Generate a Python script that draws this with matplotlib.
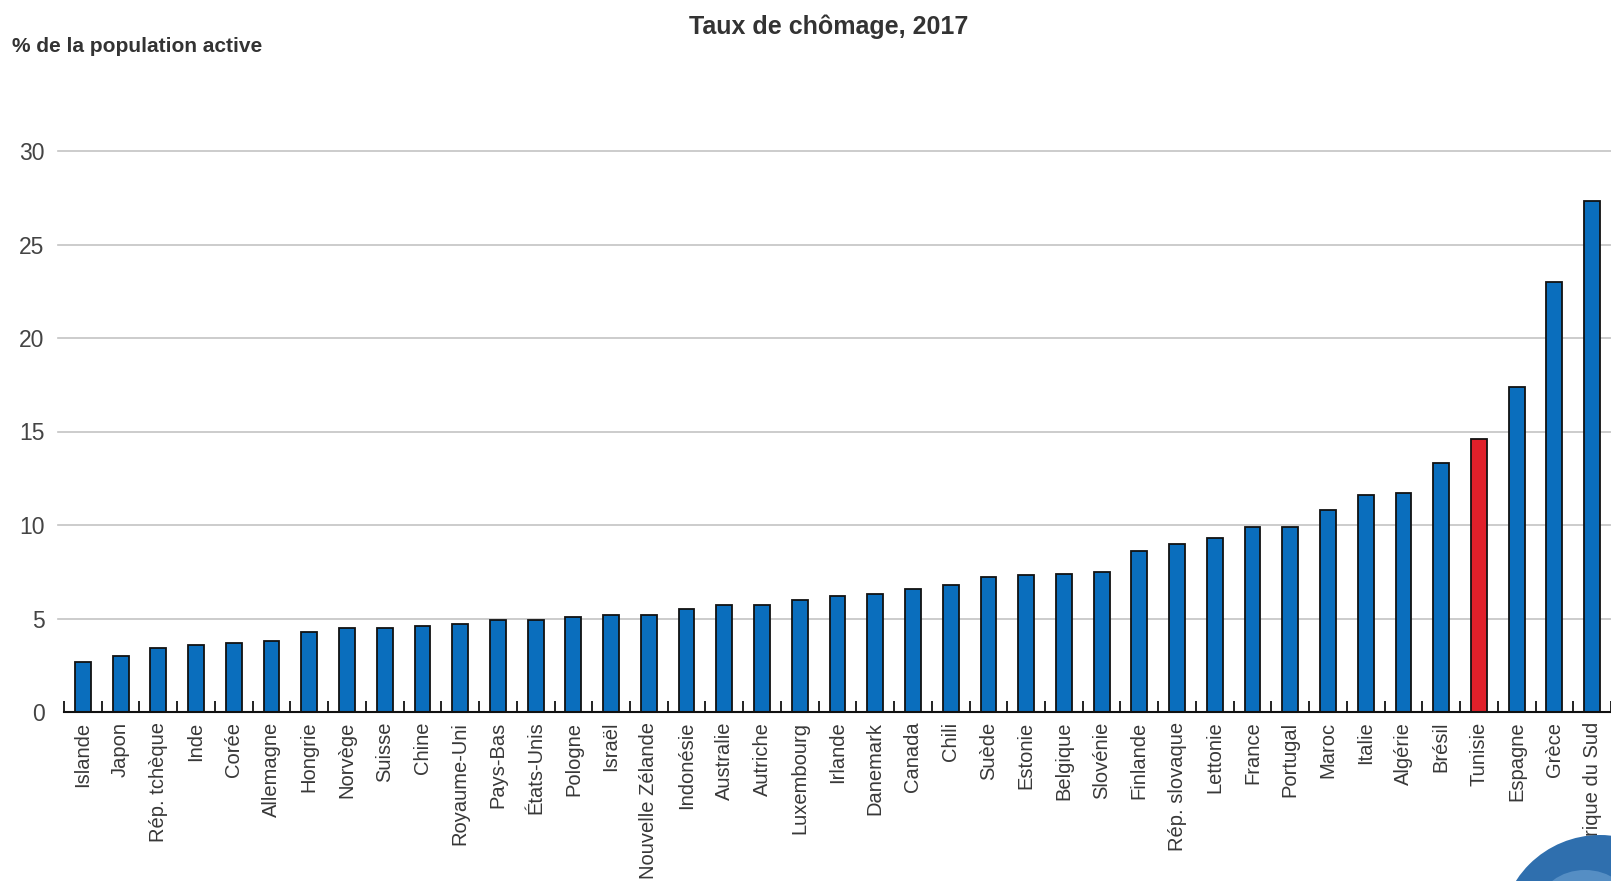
import numpy as np
import matplotlib
matplotlib.use("Agg")
import matplotlib.pyplot as plt
from matplotlib.patches import Ellipse

plt.rcParams['font.family'] = ['Liberation Sans', 'DejaVu Sans']

pays = ["Islande", "Japon", "Rép. tchèque", "Inde", "Corée", "Allemagne", "Hongrie",
        "Norvège", "Suisse", "Chine", "Royaume-Uni", "Pays-Bas", "États-Unis", "Pologne",
        "Israël", "Nouvelle Zélande", "Indonésie", "Australie", "Autriche", "Luxembourg",
        "Irlande", "Danemark", "Canada", "Chili", "Suède", "Estonie", "Belgique",
        "Slovénie", "Finlande", "Rép. slovaque", "Lettonie", "France", "Portugal", "Maroc",
        "Italie", "Algérie", "Brésil", "Tunisie", "Espagne", "Grèce", "Afrique du Sud"]
chomage = [2.7, 3.0, 3.4, 3.6, 3.7, 3.8, 4.3, 4.5, 4.5, 4.6, 4.7, 4.9, 4.9, 5.1,
           5.2, 5.2, 5.5, 5.7, 5.7, 6.0, 6.2, 6.3, 6.6, 6.8, 7.2, 7.3, 7.4,
           7.5, 8.6, 9.0, 9.3, 9.9, 9.9, 10.8,
           11.6, 11.7, 13.3, 14.6, 17.4, 23.0, 27.3]
surligne = "Tunisie"
yticks = [0, 5, 10, 15, 20, 25, 30]

W, H = 1611, 881
fig = plt.figure(figsize=(W / 100, H / 100), dpi=100)
ax = fig.add_axes([64 / W, (H - 712) / H, 1 - 64 / W, (712 - 151) / H])

x = np.arange(len(pays))
couleurs = ['#E0202A' if p == surligne else '#0A6EBD' for p in pays]
ax.bar(x, chomage, width=0.42, color=couleurs, edgecolor='#111111', linewidth=1.3, zorder=3)

ax.set_xlim(-0.5, (W - 83) / 37.93)
ax.set_ylim(0, 30)
ax.set_yticks(yticks)
ax.set_yticklabels([str(v) for v in yticks], fontsize=16.5, color='#444444')
ax.tick_params(axis='y', length=0, pad=14)

ax.set_xticks(x)
ax.set_xticklabels(pays, rotation=90, fontsize=14.5, color='#383838', va='top')
ax.tick_params(axis='x', which='major', length=0, pad=7)
ax.set_xticks(np.arange(-0.5, len(pays), 1.0), minor=True)
ax.tick_params(axis='x', which='minor', direction='in', length=8, width=1.3, color='#111111')

for s in ['top', 'right', 'left']:
    ax.spines[s].set_visible(False)
ax.spines['bottom'].set_linewidth(1.5)
ax.spines['bottom'].set_color('#111111')
ax.spines['bottom'].set_zorder(4)

for v in yticks[1:]:
    ax.axhline(v, xmin=-0.004, xmax=1, color='#c4c4c4', linewidth=1.2, zorder=1, clip_on=False)

fig.text(829 / W, 1 - 27 / H, "Taux de chômage, 2017", ha='center', va='center',
         fontsize=18, fontweight='bold', color='#333333')
fig.text(12 / W, 1 - 46 / H, "% de la population active", ha='left', va='center',
         fontsize=15, fontweight='bold', color='#333333')

# logo (globe) en bas à droite
fig.patches.append(Ellipse((1600 / W, (H - 935) / H), 200 / W, 200 / H,
                           transform=fig.transFigure, facecolor='#2f6fae',
                           edgecolor='none', zorder=10))
fig.patches.append(Ellipse((1585 / W, (H - 905) / H), 90 / W, 70 / H,
                           transform=fig.transFigure, facecolor='#6fa3d3',
                           edgecolor='none', alpha=0.6, zorder=11))

fig.savefig("out.png", dpi=100)
